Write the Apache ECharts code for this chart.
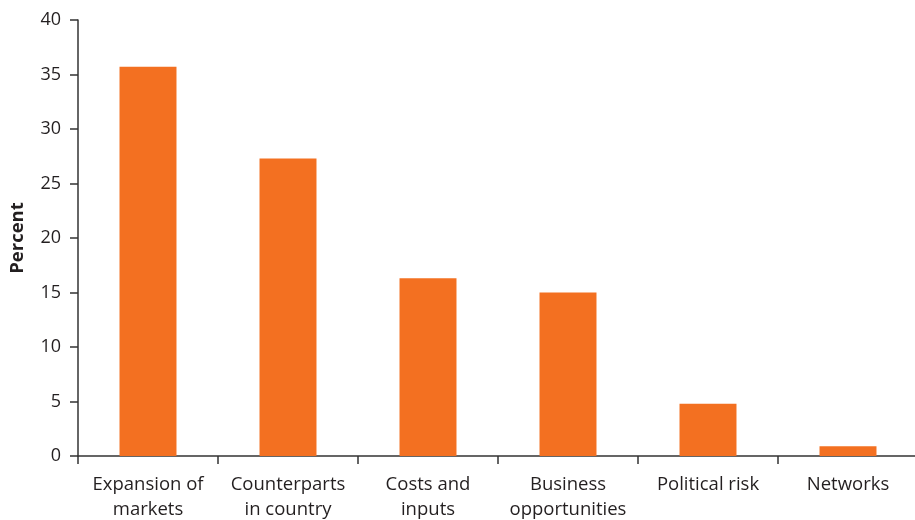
<!DOCTYPE html>
<html>
<head>
<meta charset="utf-8">
<script src="https://cdn.jsdelivr.net/npm/echarts@6/dist/echarts.min.js"></script>
<style>
  html, body { margin: 0; padding: 0; background: #fff; }
  #chart { width: 915px; height: 520px; }
</style>
</head>
<body>
<div id="chart"></div>
<script>
const categories = [
  'Expansion of\nmarkets',
  'Counterparts\nin country',
  'Costs and\ninputs',
  'Business\nopportunities',
  'Political risk',
  'Networks'
]
const percent = [35.7, 27.3, 16.3, 15.0, 4.8, 0.9]

const axisColor = '#333333'
const textColor = '#231f20'
const font = 'Open Sans'

const chart = echarts.init(document.getElementById('chart'))
chart.setOption({
  animation: false,
  grid: { left: 78, right: -3, top: 20, bottom: 64, containLabel: false, outerBoundsMode: 'none' },
  xAxis: {
    type: 'category',
    data: categories,
    axisLine: { lineStyle: { color: axisColor, width: 1.5 } },
    axisTick: { show: true, alignWithLabel: false, length: 8, lineStyle: { color: axisColor, width: 1.5 } },
    axisLabel: {
      color: textColor,
      fontFamily: font,
      fontSize: 18.5,
      lineHeight: 25,
      margin: 16,
      interval: 0
    }
  },
  yAxis: {
    type: 'value',
    min: 0,
    max: 40,
    interval: 5,
    name: 'Percent',
    nameLocation: 'middle',
    nameGap: 51,
    nameTextStyle: { color: textColor, fontFamily: font, fontSize: 18.5, fontWeight: 'bold' },
    axisLine: { show: true, lineStyle: { color: axisColor, width: 1.5 } },
    axisTick: { show: true, length: 8, lineStyle: { color: axisColor, width: 1.5 } },
    axisLabel: { color: textColor, fontFamily: font, fontSize: 18, margin: 17 },
    splitLine: { show: false }
  },
  series: [{
    type: 'bar',
    data: percent,
    barWidth: '40.7%',
    itemStyle: { color: '#f37021' }
  }]
})
</script>
</body>
</html>
